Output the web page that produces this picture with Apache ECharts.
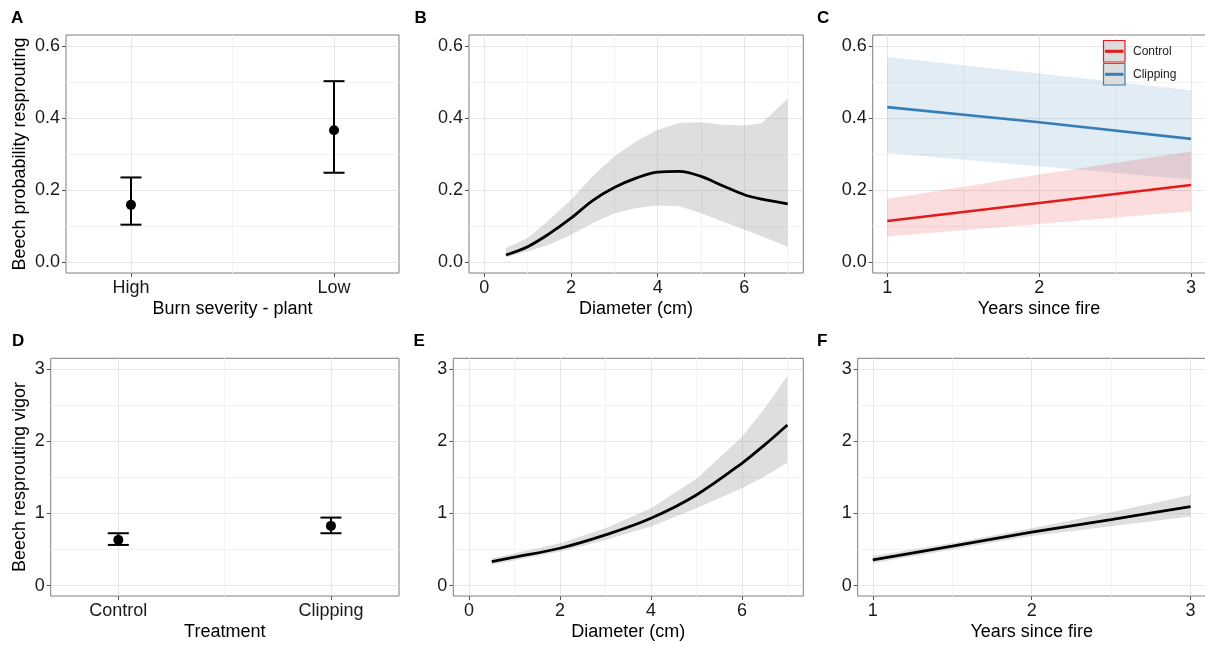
<!DOCTYPE html>
<html><head><meta charset="utf-8">
<script src="https://cdn.jsdelivr.net/npm/echarts@6/dist/echarts.min.js"></script>
<style>html,body{margin:0;padding:0;background:#fff}#c{width:1205px;height:646px}</style>
</head><body><div id="c"></div>
<script>
// ---------- DATA ----------
// Panel A: probability by burn severity
const catA = ['High', 'Low'];
const catPos = [1, 2];
const probA = [0.159, 0.366];
const probALo = [0.104, 0.248];
const probAHi = [0.235, 0.502];

// Panel B: probability vs diameter
const diamB = [0.5, 1, 1.5, 2, 2.5, 3, 3.5, 4, 4.5, 5, 5.5, 6, 6.4, 7];
const fitB = [0.020, 0.043, 0.079, 0.122, 0.171, 0.207, 0.233, 0.250, 0.252, 0.238, 0.212, 0.187, 0.175, 0.162];
const loB  = [0.014, 0.030, 0.048, 0.076, 0.108, 0.136, 0.150, 0.157, 0.155, 0.136, 0.113, 0.090, 0.072, 0.043];
const hiB  = [0.039, 0.067, 0.118, 0.173, 0.238, 0.293, 0.335, 0.367, 0.386, 0.388, 0.381, 0.379, 0.385, 0.453];

// Panel C: probability vs years since fire, by treatment
const yrsC = [1, 2, 3];
const ctrlFit = [0.114, 0.164, 0.214];
const ctrlLo  = [0.071, 0.106, 0.141];
const ctrlHi  = [0.175, 0.243, 0.307];
const clipFit = [0.430, 0.388, 0.342];
const clipLo  = [0.303, 0.266, 0.229];
const clipHi  = [0.569, 0.523, 0.477];

// Panel D: vigor by treatment
const catD = ['Control', 'Clipping'];
const vigD = [0.633, 0.827];
const vigDLo = [0.563, 0.725];
const vigDHi = [0.725, 0.942];

// Panel E: vigor vs diameter
const diamE = [0.5, 1, 2, 3, 4, 5, 6, 6.5, 7];
const fitE = [0.333, 0.393, 0.517, 0.702, 0.933, 1.256, 1.695, 1.950, 2.226];
const loE  = [0.287, 0.346, 0.471, 0.633, 0.817, 1.072, 1.349, 1.510, 1.704];
const hiE  = [0.379, 0.448, 0.587, 0.795, 1.072, 1.480, 2.060, 2.457, 2.904];

// Panel F: vigor vs years since fire
const yrsF = [1, 1.5, 2, 2.5, 3];
const fitF = [0.356, 0.547, 0.739, 0.915, 1.094];
const loF  = [0.310, 0.500, 0.688, 0.822, 0.956];
const hiF  = [0.410, 0.590, 0.795, 1.015, 1.256];

// Tick labels
const probTicks = [0, 0.2, 0.4, 0.6];
const probMinor = [0.1, 0.3, 0.5];
const vigTicks = [0, 1, 2, 3];
const vigMinor = [0.5, 1.5, 2.5];
const diamTicks = [0, 2, 4, 6];
const diamMinor = [1, 3, 5, 7];
const yrsTicks = [1, 2, 3];
const yrsMinor = [1.5, 2.5];
const catMinor = [1.5];

// ---------- LAYOUT ----------
const FONT = '"Liberation Sans", Arial, sans-serif';
const gridBoxes = [
  {left: 66, top: 35, width: 333, height: 238},
  {left: 469, top: 35, width: 334.3, height: 238},
  {left: 872.7, top: 35, width: 333, height: 238},
  {left: 50.7, top: 358.3, width: 348.3, height: 237.7},
  {left: 453.3, top: 358.3, width: 350, height: 237.7},
  {left: 857.7, top: 358.3, width: 348, height: 237.7}
];
const xRanges = [[0.68, 2.32], [-0.353, 7.36], [0.904, 3.096], [0.682, 2.32], [-0.345, 7.35], [0.905, 3.095]];
const yRanges = [[-0.03, 0.63], [-0.03, 0.63], [-0.03, 0.63], [-0.145, 3.15], [-0.145, 3.15], [-0.145, 3.15]];
const xMajor = [catPos, diamTicks, yrsTicks, catPos, diamTicks, yrsTicks];
const xMinorV = [catMinor, diamMinor, yrsMinor, catMinor, diamMinor, yrsMinor];
const yMajor = [probTicks, probTicks, probTicks, vigTicks, vigTicks, vigTicks];
const yMinorV = [probMinor, probMinor, probMinor, vigMinor, vigMinor, vigMinor];
const xFmt = [v => catA[Math.round(v) - 1], v => String(v), v => String(v),
              v => catD[Math.round(v) - 1], v => String(v), v => String(v)];
const yFmt = [v => v.toFixed(1), v => v.toFixed(1), v => v.toFixed(1), v => String(v), v => String(v), v => String(v)];

function majorAxis(dim, g, range, ticks, fmt) {
  return {
    type: 'value', gridIndex: g, min: range[0], max: range[1],
    position: dim === 'x' ? 'bottom' : 'left',
    axisLine: {show: false, onZero: false},
    axisTick: {show: true, inside: false, length: 4, lineStyle: {color: '#555', width: 1}, customValues: ticks},
    axisLabel: {show: true, customValues: ticks, margin: 6, color: '#1a1a1a', fontSize: 18, fontFamily: FONT,
                formatter: fmt, hideOverlap: false, showMinLabel: true, showMaxLabel: true},
    splitLine: {show: true, lineStyle: {color: '#e6e6e6', width: 1}},
    minorTick: {show: false}, minorSplitLine: {show: false}
  };
}
function minorAxis(dim, g, range, vals) {
  return {
    type: 'value', gridIndex: g, min: range[0], max: range[1],
    position: dim === 'x' ? 'top' : 'right',
    axisLine: {show: false, onZero: false},
    axisTick: {show: false, customValues: vals},
    axisLabel: {show: false},
    splitLine: {show: true, lineStyle: {color: '#f3f3f3', width: 1}}
  };
}

const grid = gridBoxes.map(b => Object.assign({}, b, {
  show: true, borderColor: '#7f7f7f', borderWidth: 1, backgroundColor: 'transparent',
  containLabel: false, outerBoundsMode: 'none'
}));
const xAxis = [], yAxis = [];
for (let g = 0; g < 6; g++) {
  xAxis.push(majorAxis('x', g, xRanges[g], xMajor[g], xFmt[g]));
  xAxis.push(minorAxis('x', g, xRanges[g], xMinorV[g]));
  yAxis.push(majorAxis('y', g, yRanges[g], yMajor[g], yFmt[g]));
  yAxis.push(minorAxis('y', g, yRanges[g], yMinorV[g]));
}

// ---------- SERIES ----------
function bandSeries(g, xs, lo, hi, fill) {
  return {
    type: 'custom', xAxisIndex: 2 * g, yAxisIndex: 2 * g, silent: true, clip: true, z: 1,
    data: xs.map((x, i) => [x, lo[i], hi[i]]),
    encode: {x: 0, y: [1, 2]},
    renderItem(params, api) {
      if (params.dataIndex !== 0) return null;
      const pts = [];
      for (let i = 0; i < xs.length; i++) pts.push(api.coord([xs[i], hi[i]]));
      for (let i = xs.length - 1; i >= 0; i--) pts.push(api.coord([xs[i], lo[i]]));
      return {type: 'polygon', shape: {points: pts}, style: {fill: fill, stroke: null}};
    }
  };
}
function lineSeries(g, xs, ys, color, width, smooth) {
  return {
    type: 'line', xAxisIndex: 2 * g, yAxisIndex: 2 * g, z: 3, silent: true,
    data: xs.map((x, i) => [x, ys[i]]), showSymbol: false, symbol: 'none',
    smooth: smooth, lineStyle: {color: color, width: width, cap: 'butt'}
  };
}
function errSeries(g, xs, lo, hi) {
  return {
    type: 'custom', xAxisIndex: 2 * g, yAxisIndex: 2 * g, z: 3, silent: true,
    data: xs.map((x, i) => [x, lo[i], hi[i]]),
    encode: {x: 0, y: [1, 2]},
    renderItem(params, api) {
      const x = api.value(0), l = api.value(1), h = api.value(2);
      const pt = api.coord([x, h]), pb = api.coord([x, l]);
      const hw = 10.5;
      const st = {stroke: '#000', lineWidth: 2};
      return {type: 'group', children: [
        {type: 'line', shape: {x1: pt[0], y1: pt[1], x2: pb[0], y2: pb[1]}, style: st},
        {type: 'line', shape: {x1: pt[0] - hw, y1: pt[1], x2: pt[0] + hw, y2: pt[1]}, style: st},
        {type: 'line', shape: {x1: pb[0] - hw, y1: pb[1], x2: pb[0] + hw, y2: pb[1]}, style: st}
      ]};
    }
  };
}
function pointSeries(g, xs, ys) {
  return {
    type: 'scatter', xAxisIndex: 2 * g, yAxisIndex: 2 * g, z: 4, silent: true,
    data: xs.map((x, i) => [x, ys[i]]), symbolSize: 10, itemStyle: {color: '#000', opacity: 1}
  };
}

const RED = '#E41A1C', BLUE = '#377EB8';
const GREYBAND = 'rgba(153,153,153,0.32)';
const series = [
  errSeries(0, catPos, probALo, probAHi), pointSeries(0, catPos, probA),
  bandSeries(1, diamB, loB, hiB, GREYBAND), lineSeries(1, diamB, fitB, '#000', 2.8, 0.35),
  bandSeries(2, yrsC, clipLo, clipHi, 'rgba(55,126,184,0.15)'),
  bandSeries(2, yrsC, ctrlLo, ctrlHi, 'rgba(228,26,28,0.15)'),
  lineSeries(2, yrsC, ctrlFit, RED, 2.6, false),
  lineSeries(2, yrsC, clipFit, BLUE, 2.6, false),
  errSeries(3, catPos, vigDLo, vigDHi), pointSeries(3, catPos, vigD),
  bandSeries(4, diamE, loE, hiE, GREYBAND), lineSeries(4, diamE, fitE, '#000', 2.8, 0.35),
  bandSeries(5, yrsF, loF, hiF, GREYBAND), lineSeries(5, yrsF, fitF, '#000', 2.8, 0.3)
];

// ---------- TEXT / LEGEND ----------
function txt(t, x, y, style, rot) {
  return {type: 'text', silent: true, z: 100, x: x, y: y, rotation: rot || 0,
    style: Object.assign({text: t, x: 0, y: 0, fill: '#000', align: 'center', verticalAlign: 'middle',
      font: '18px ' + FONT}, style || {})};
}
const letter = (t, x, y) => txt(t, x, y, {align: 'left', font: 'bold 17px ' + FONT});
const legendItem = (label, y, color) => [
  {type: 'rect', silent: true, z: 100, shape: {x: 1103.5, y: y - 10.8, width: 21.5, height: 21.5},
   style: {fill: '#dcdcdc', stroke: color, lineWidth: 1.2}},
  {type: 'line', silent: true, z: 101, shape: {x1: 1105, y1: y, x2: 1123.5, y2: y},
   style: {stroke: color, lineWidth: 3}},
  txt(label, 1133, y, {align: 'left', font: '12px ' + FONT, fill: '#222'})
];
const graphic = [
  letter('A', 11, 18.5), letter('B', 414.5, 18.5), letter('C', 817, 18.5),
  letter('D', 12, 341), letter('E', 413.5, 341), letter('F', 817, 341),
  txt('Burn severity - plant', 232.5, 309),
  txt('Diameter (cm)', 636, 309),
  txt('Years since fire', 1039, 309),
  txt('Treatment', 224.8, 632),
  txt('Diameter (cm)', 628.3, 632),
  txt('Years since fire', 1031.7, 632),
  txt('Beech probability resprouting', 20, 154, null, Math.PI / 2),
  txt('Beech resprouting vigor', 20, 477, null, Math.PI / 2)
].concat(legendItem('Control', 51.3, RED), legendItem('Clipping', 74.3, BLUE));

const chart = echarts.init(document.getElementById('c'), null, {renderer: 'canvas'});
chart.setOption({
  animation: false,
  backgroundColor: '#fff',
  grid: grid, xAxis: xAxis, yAxis: yAxis, series: series,
  graphic: {elements: graphic}
});
</script></body></html>
